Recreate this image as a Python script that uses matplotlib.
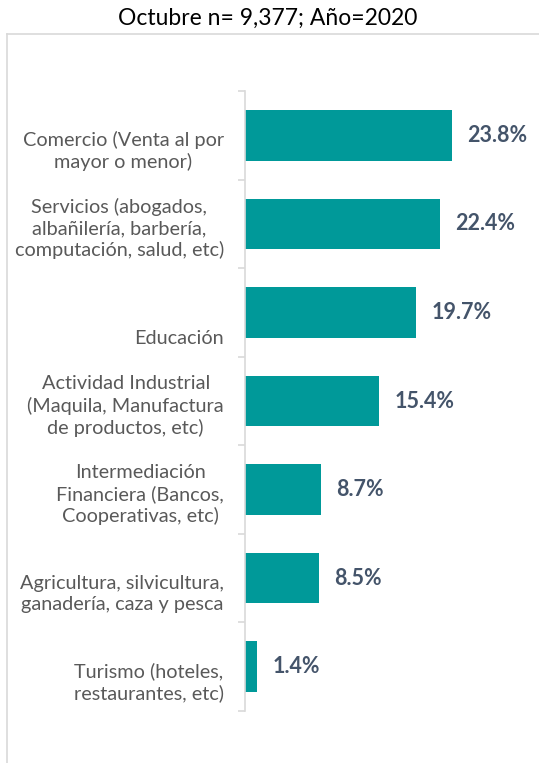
import matplotlib
matplotlib.use("Agg")
import matplotlib.pyplot as plt
from matplotlib.lines import Line2D
from matplotlib.transforms import ScaledTranslation, blended_transform_factory
import numpy as np

plt.rcParams['font.family'] = ['Lato', 'DejaVu Sans']

title = "Octubre n= 9,377; Año=2020"
categories = [
    " \nComercio (Venta al por\nmayor o menor)",
    "Servicios (abogados,\nalbañilería, barbería,\ncomputación, salud, etc)",
    " \n \nEducación",
    "Actividad Industrial\n(Maquila, Manufactura\nde productos, etc)",
    "Intermediación\nFinanciera (Bancos,\nCooperativas, etc)",
    " \nAgricultura, silvicultura,\nganadería, caza y pesca",
    " \nTurismo (hoteles,\nrestaurantes, etc)",
]
values = [23.8, 22.4, 19.7, 15.4, 8.7, 8.5, 1.4]
value_labels = ["23.8%", "22.4%", "19.7%", "15.4%", "8.7%", "8.5%", "1.4%"]

W, H = 539, 763
fig = plt.figure(figsize=(W / 100, H / 100), dpi=100)

ax_left, ax_right = 245, 530
ax_top, ax_bottom = 91, 711
ax = fig.add_axes([ax_left / W, 1 - ax_bottom / H, (ax_right - ax_left) / W, (ax_bottom - ax_top) / H])

n = len(categories)
y = np.arange(n)
ax.barh(y, values, height=0.57, color='#009999', zorder=2)
ax.set_ylim(n - 0.5, -0.5)
ax.set_xlim(0, (ax_right - ax_left) / 8.7)

for yi, v, lab in zip(y, values, value_labels):
    ax.annotate(lab, (v, yi), xytext=(11, 0), textcoords='offset points',
                va='center', ha='left', fontsize=15.5, fontweight='bold', color='#44546A')

# category labels drawn as text next to the axis
ax.set_yticks([])
lab_tr = blended_transform_factory(ax.transAxes, ax.transData) + \
    ScaledTranslation(-21 / 100, -5 / 100, fig.dpi_scale_trans)
for yi, cat in zip(y, categories):
    ax.text(0, yi, cat, transform=lab_tr, ha='right', va='center', multialignment='center',
            fontsize=14.3, color='#595959', linespacing=1.28)

ax.set_yticks(np.arange(n + 1) - 0.5, minor=True)
ax.tick_params(axis='y', which='minor', length=5, width=1.2, color='#D9D9D9', direction='out')
ax.set_xticks([])

for s in ['top', 'right', 'bottom']:
    ax.spines[s].set_visible(False)
ax.spines['left'].set_color('#D9D9D9')
ax.spines['left'].set_linewidth(1.2)

# outer chart frame (only top and left visible)
fig.add_artist(Line2D([7 / W, 1.0], [1 - 34 / H, 1 - 34 / H], color='#D9D9D9', lw=1.2, transform=fig.transFigure))
fig.add_artist(Line2D([7 / W, 7 / W], [0, 1 - 34 / H], color='#D9D9D9', lw=1.2, transform=fig.transFigure))

fig.text(268 / W, 1 - 18 / H, title, ha='center', va='center', fontsize=16.5, color='#000000')

fig.savefig("out.png", dpi=100)
